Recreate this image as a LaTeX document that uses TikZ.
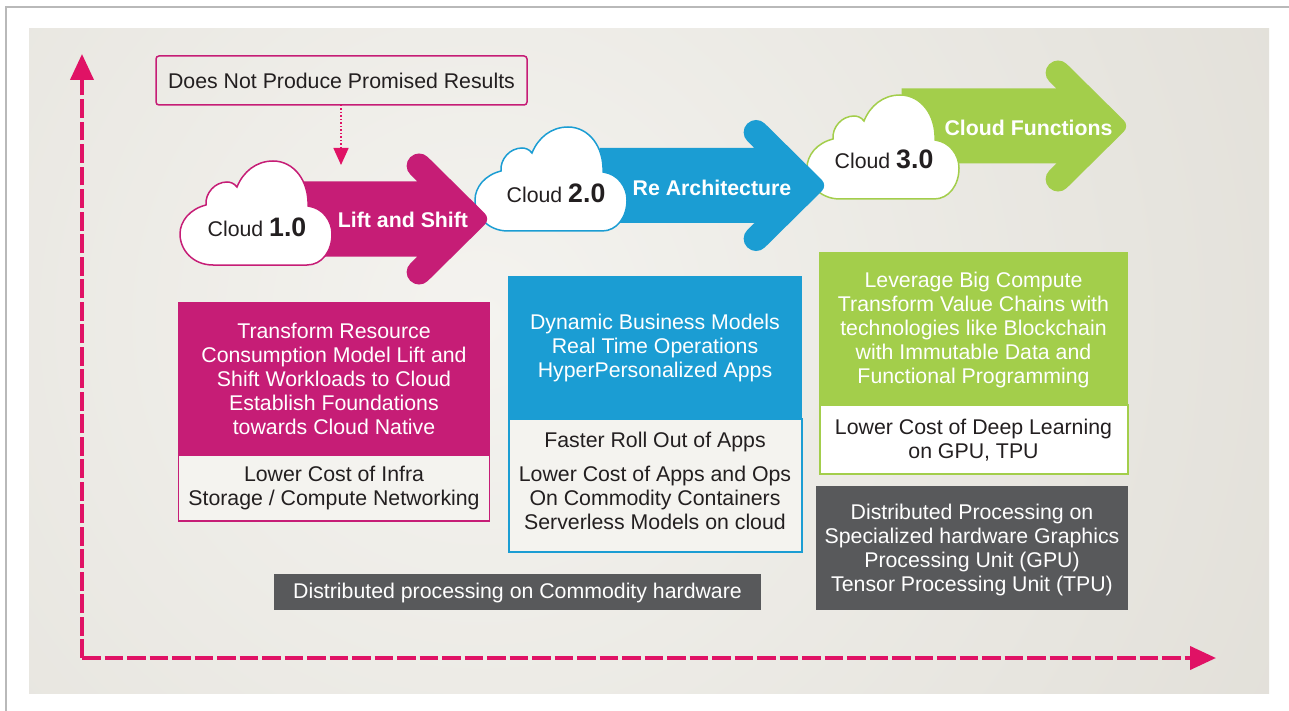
\documentclass[tikz,border=0pt]{standalone}
\usepackage{fontspec}
\setmainfont{Liberation Sans}
\usetikzlibrary{arrows.meta,positioning}
\definecolor{liftpink}{HTML}{C61D76}
\definecolor{axispink}{HTML}{E01265}
\definecolor{rearchblue}{HTML}{1B9DD3}
\definecolor{funcgreen}{HTML}{A3CE4B}
\definecolor{hwgray}{HTML}{58595B}
\definecolor{inktext}{HTML}{231F20}
\definecolor{paleback}{HTML}{F4F3EF}
\definecolor{darkback}{HTML}{DAD7CF}
\newcommand{\dropby}[1]{\rule{0pt}{\dimexpr 15.6pt+#1pt+#1pt\relax}}
\newcommand{\cloudname}[1]{\fontsize{21.3}{24}\selectfont Cloud \fontsize{26.7}{24}\selectfont\bfseries #1}
\begin{document}
\begin{tikzpicture}[x=1pt,y=-1pt,every node/.style={font=\fontsize{21.3}{24}\selectfont,text=inktext,inner sep=0pt,outer sep=0pt,align=center}]
\tikzset{
  axisline/.style={draw=axispink,line width=4pt,dash pattern=on 18.7pt off 3.8pt,-{Triangle[length=26pt,width=23pt]}},
  topbox/.style={anchor=north west,fill=#1,text=white},
  lowbox/.style={below=0pt of #1,line width=1.5pt},
  hwbox/.style={anchor=north west,fill=hwgray,text=white},
  arrowtext/.style={text=white,font=\fontsize{21.3}{24}\selectfont\bfseries},
  cloud/.pic={\path[pic actions,fill=white,line width=1.5pt]
    (-43,52) .. controls (-63,52) and (-76,37) .. (-76,21)
    .. controls (-76,8) and (-66,-4) .. (-50,-8)
    .. controls (-51,-20) and (-41,-31) .. (-29,-31)
    .. controls (-26,-31) and (-22,-30) .. (-19,-26)
    .. controls (-13,-41) and (0,-52) .. (17,-52)
    .. controls (38,-52) and (53,-32) .. (52,-7)
    .. controls (67,-5) and (76,8) .. (76,21)
    .. controls (76,38) and (66,52) .. (51,52) -- cycle;},
  flowarrow/.pic={\path[pic actions]
    (-228,-37.5) -- (-73,-37.5) [rounded corners=12.3pt] -- (-89,-53) -- (-71.5,-70.6)
    [rounded corners=8pt] -- (0,0) [rounded corners=12.3pt] -- (-71.5,70.6) -- (-89,53)
    [sharp corners] -- (-73,37.5) -- (-228,37.5) -- cycle;}
}
% frame and backdrop
\useasboundingbox (0,0) rectangle (1289,711);
\draw[gray!55,line width=1.5pt] (1289,7) -- (6,7) -- (6,711);
\begin{scope}
\clip (29,29) rectangle (1269,693);
\shade[inner color=paleback,outer color=darkback] (480,320) circle (1300);
\end{scope}
% axes
\coordinate (origin) at (82,658);
\coordinate (ytop) at (82,54);
\coordinate (xend) at (1216,658);
\draw[axisline] (origin) -- (ytop);
\draw[axisline] (origin) -- (xend);
% arrows then clouds
\pic[fill=funcgreen] at (1129.5,126) {flowarrow};
\pic[draw=funcgreen] at (883,147) {cloud};
\pic[fill=rearchblue] at (827.5,185.5) {flowarrow};
\pic[draw=rearchblue] at (551,179) {cloud};
\pic[fill=liftpink] at (490.5,219) {flowarrow};
\pic[draw=liftpink] at (256,213) {cloud};
\node (cloudone) at (257,227) {\cloudname{1.0}};
\node (cloudtwo) at (556,193) {\cloudname{2.0}};
\node (cloudthree) at (884,159) {\cloudname{3.0}};
\node[arrowtext] (liftlabel) at (403,220) {Lift and Shift};
\node[arrowtext] (rearchlabel) at (712,188) {Re Architecture};
\node[arrowtext] (funclabel) at (1028.5,128) {Cloud Functions};
% warning box
\node[draw=liftpink,line width=1.5pt,rounded corners=3pt,minimum width=371pt,minimum height=49pt,anchor=north west] (promise) at (156,56) {Does Not Produce Promised Results};
\coordinate (promiseend) at (341,165);
\draw[axispink,line width=1.5pt,dotted,-{Triangle[length=17pt,width=15pt]}] (promise.south -| promiseend) -- (promiseend);
% columns
\node[topbox=liftpink,minimum width=312pt,minimum height=153pt] (liftbox) at (178,302) {\dropby{0.5}Transform Resource\\Consumption Model Lift and\\Shift Workloads to Cloud\\Establish Foundations\\towards Cloud Native};
\node[lowbox=liftbox,draw=liftpink,fill=paleback,minimum width=311pt,minimum height=66pt] (liftgain) {Lower Cost of Infra\\Storage / Compute Networking};
\node[topbox=rearchblue,minimum width=294pt,minimum height=143pt] (rearchbox) at (508,276) {\dropby{0.5}Dynamic Business Models\\Real Time Operations\\HyperPersonalized Apps};
\node[lowbox=rearchbox,draw=rearchblue,fill=paleback,line width=2pt,minimum width=293pt,minimum height=133pt] (rearchgain) {Faster Roll Out of Apps\\[10pt]Lower Cost of Apps and Ops\\On Commodity Containers\\Serverless Models on cloud\\[-15pt]\mbox{}};
\node[topbox=funcgreen,minimum width=309pt,minimum height=153pt] (funcbox) at (819,252) {\dropby{1.5}Leverage Big Compute\\Transform Value Chains with\\technologies like Blockchain\\with Immutable Data and\\Functional Programming};
\node[lowbox=funcbox,draw=funcgreen,fill=white,line width=2pt,minimum width=308pt,minimum height=69pt] (funcgain) {\dropby{1}Lower Cost of Deep Learning\\on GPU, TPU};
% hardware bars
\node[hwbox,minimum width=487pt,minimum height=36pt] (commodity) at (274,574) {\dropby{1}Distributed processing on Commodity hardware};
\node[hwbox,minimum width=312pt,minimum height=124pt] (special) at (816,486) {\dropby{2}Distributed Processing on\\Specialized hardware Graphics\\Processing Unit (GPU)\\Tensor Processing Unit (TPU)};
\end{tikzpicture}
\end{document}
